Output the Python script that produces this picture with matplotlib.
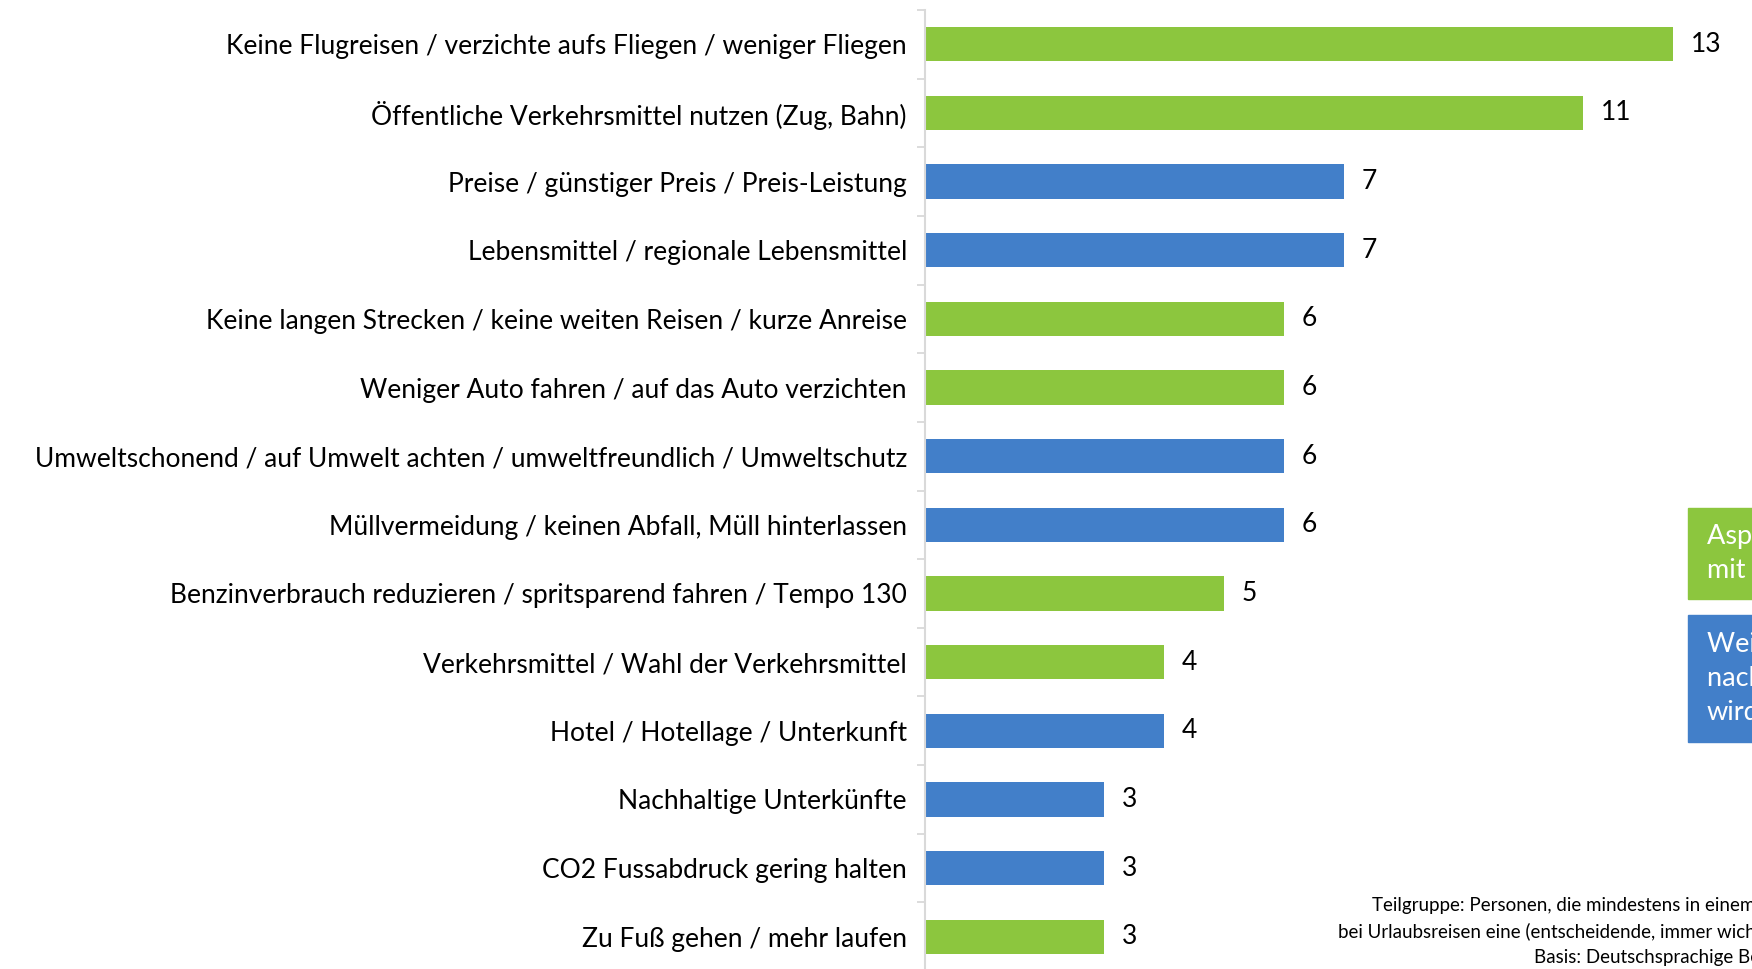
import matplotlib
matplotlib.use("Agg")
import matplotlib.pyplot as plt
from matplotlib.patches import Rectangle

plt.rcParams['font.family'] = ['Lato', 'DejaVu Sans']

categories = [
    "Keine Flugreisen / verzichte aufs Fliegen / weniger Fliegen",
    "Öffentliche Verkehrsmittel nutzen (Zug, Bahn)",
    "Preise / günstiger Preis / Preis-Leistung",
    "Lebensmittel / regionale Lebensmittel",
    "Keine langen Strecken / keine weiten Reisen / kurze Anreise",
    "Weniger Auto fahren / auf das Auto verzichten",
    "Umweltschonend / auf Umwelt achten / umweltfreundlich / Umweltschutz",
    "Müllvermeidung / keinen Abfall, Müll hinterlassen",
    "Benzinverbrauch reduzieren / spritsparend fahren / Tempo 130",
    "Verkehrsmittel / Wahl der Verkehrsmittel",
    "Hotel / Hotellage / Unterkunft",
    "Nachhaltige Unterkünfte",
    "CO2 Fussabdruck gering halten",
    "Zu Fuß gehen / mehr laufen",
]
values = [12.5, 11, 7, 7, 6, 6, 6, 6, 5, 4, 4, 3, 3, 3]
value_labels = ["13", "11", "7", "7", "6", "6", "6", "6", "5", "4", "4", "3", "3", "3"]
groups = ["mob", "mob", "oth", "oth", "mob", "mob", "oth", "oth",
          "mob", "mob", "oth", "oth", "oth", "mob"]

GREEN = "#8CC63E"
BLUE = "#427FC9"
colors = {"mob": GREEN, "oth": BLUE}

W, H = 1752, 969
fig = plt.figure(figsize=(W / 100, H / 100), dpi=100)
ax_left = 925 / W
ax_bottom_px = 971
ax = fig.add_axes([ax_left, 1 - ax_bottom_px / H, 1 - ax_left, (ax_bottom_px - 10) / H])

y = list(range(len(categories)))
ax.barh(y, values, height=0.5, color=[colors[g] for g in groups])
ax.set_ylim(len(categories) - 0.5, -0.5)
ax.set_xlim(0, 827 / 59.8)

for yi, v, lab in zip(y, values, value_labels):
    ax.text(v + 0.3, yi, lab, va="center", ha="left", fontsize=19, color="black")

ax.set_yticks(y)
ax.set_yticklabels(categories, fontsize=19)
ax.set_yticks([i - 0.5 for i in range(len(categories) + 1)], minor=True)
ax.tick_params(axis="y", which="major", length=0, pad=13)
ax.tick_params(axis="y", which="minor", length=6, color="#d9d9d9", width=1.3)
ax.set_xticks([])
for s in ["top", "right", "bottom"]:
    ax.spines[s].set_visible(False)
ax.spines["left"].set_color("#d9d9d9")
ax.spines["left"].set_linewidth(1.5)

# legend boxes (partially cut off at the right edge, as in the original)
def box(y0, y1, color, lines):
    fig.patches.append(Rectangle((1688 / W, 1 - y1 / H), (W - 1688) / W + 0.05,
                                 (y1 - y0) / H, transform=fig.transFigure,
                                 color=color, zorder=5))
    n = len(lines)
    for i, t in enumerate(lines):
        yc = (y0 + y1) / 2 + (i - (n - 1) / 2) * 34
        fig.text(1707 / W, 1 - yc / H, t, ha="left", va="center",
                 fontsize=19.5, color="white", zorder=6)

box(508, 599, GREEN, ["Aspekte im Zusammenhang", "mit Mobilität"])
box(615, 742, BLUE, ["Weitere Aspekte, die genannt", "nachhaltigem Reisen zugeordnet", "wird"])

foot = [
    (1372, 905, "Teilgruppe: Personen, die mindestens in einem Bereich"),
    (1338, 932, "bei Urlaubsreisen eine (entscheidende, immer wichtige) Rolle spielt"),
    (1534, 957, "Basis: Deutschsprachige Bevölkerung"),
]
for xp, yp, t in foot:
    fig.text(xp / W, 1 - yp / H, t, ha="left", va="center", fontsize=13.5, color="black")

fig.savefig("out.png", dpi=100)
